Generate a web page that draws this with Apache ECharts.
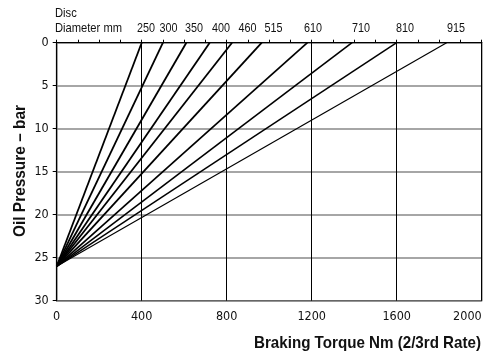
<!DOCTYPE html>
<html>
<head>
<meta charset="utf-8">
<script src="https://cdn.jsdelivr.net/npm/echarts@6/dist/echarts.min.js"></script>
<style>html,body{margin:0;padding:0;background:#fff}#c{width:487px;height:353px}</style>
</head>
<body>
<div id="c"></div>
<script>
// Disc diameters (mm)
const diameters = [250, 300, 350, 400, 460, 515, 610, 710, 810, 915];
// Braking torque (Nm) at 0 bar for each disc line
const torqueAtZero = [400, 500, 610, 720, 825, 965, 1180, 1390, 1600, 1835];
// Oil pressure where all lines meet at zero torque (bar)
const startPressure = 26;
// Where each diameter label sits along the torque axis
const labelAt = [420, 526, 646, 773, 898, 1020, 1206, 1432, 1639, 1879];
const xTicks = [0, 400, 800, 1200, 1600, 2000];
const yTicks = [0, 5, 10, 15, 20, 25, 30];

const FONT = '"DejaVu Sans Condensed", "Liberation Sans", Arial, sans-serif';
const NFONT = '"Liberation Sans", Arial, sans-serif';
const widths = [1.8,1.8,1.8,1.8,1.8,1.8,1.7,1.6,1.5,1.2];

const ctx = document.createElement('canvas').getContext('2d');
function fit(text, font, w) { ctx.font = font; return w / ctx.measureText(text).width; }

const labelFont = '13px ' + NFONT;
const digitScale = fit('250', labelFont, 18);

const series = diameters.map((d, i) => ({
  type: 'line',
  name: String(d),
  data: [[0, startPressure], [torqueAtZero[i], 0]],
  symbol: 'none',
  lineStyle: { color: '#000', width: widths[i] },
  z: 5,
  silent: true
}));
series.push({
  type: 'custom',
  data: labelAt.map((x, i) => [x, 0, diameters[i]]),
  clip: false,
  silent: true,
  renderItem: (params, api) => {
    const p = api.coord([api.value(0), api.value(1)]);
    return {
      type: 'text', x: p[0], y: p[1] - 14, scaleX: digitScale,
      style: { text: String(api.value(2)), font: labelFont, fill: '#111', align: 'center', verticalAlign: 'middle' }
    };
  }
});

const titleFont = 'bold 17px ' + NFONT;
const xTitle = 'Braking Torque Nm (2/3rd Rate)';
const yTitle = 'Oil Pressure – bar';
const discScale = fit('Diameter mm', labelFont, 67);

const chart = echarts.init(document.getElementById('c'), null, { renderer: 'canvas' });
chart.setOption({
  animation: false,
  backgroundColor: '#fff',
  grid: { left: 56.7, right: 5.3, top: 42.7, bottom: 52.3, show: true, borderColor: '#000', borderWidth: 1.2,
          containLabel: false, outerBoundsMode: 'none' },
  xAxis: {
    type: 'value', min: xTicks[0], max: xTicks[xTicks.length - 1], interval: 400,
    axisLine: { lineStyle: { color: '#000', width: 1.2 } },
    axisTick: { show: true, inside: true, length: 3, lineStyle: { color: '#000' } },
    minorTick: { show: true, splitNumber: 4, length: 3, lineStyle: { color: '#000' } },
    axisLabel: { color: '#111', fontSize: 12.5, fontFamily: FONT, margin: 10, alignMaxLabel: 'right',
      formatter: v => xTicks.includes(v) ? String(v) : '' },
    splitLine: { show: true, lineStyle: { color: '#000', width: 1 } }
  },
  yAxis: {
    type: 'value', inverse: true, min: yTicks[0], max: yTicks[yTicks.length - 1], interval: 5,
    axisLine: { lineStyle: { color: '#000', width: 1.2 } },
    axisTick: { show: true, inside: false, length: 4, lineStyle: { color: '#000' } },
    axisLabel: { color: '#111', fontSize: 12.5, fontFamily: FONT, margin: 8,
      formatter: v => yTicks.includes(v) ? String(v) : '' },
    splitLine: { show: true, lineStyle: { color: '#888', width: 1.5 } }
  },
  graphic: [
    { type: 'text', x: 55, y: 13, scaleX: discScale,
      style: { text: 'Disc', fill: '#111', font: labelFont, verticalAlign: 'middle' } },
    { type: 'text', x: 55, y: 28.5, scaleX: discScale,
      style: { text: 'Diameter mm', fill: '#111', font: labelFont, verticalAlign: 'middle' } },
    { type: 'text', x: 481, y: 343, scaleX: fit(xTitle, titleFont, 227),
      style: { text: xTitle, fill: '#111', font: titleFont, align: 'right', verticalAlign: 'middle' } },
    { type: 'text', x: 20, y: 171, rotation: Math.PI / 2, scaleX: fit(yTitle, titleFont, 132),
      style: { text: yTitle, fill: '#111', font: titleFont, align: 'center', verticalAlign: 'middle' } }
  ],
  series: series
});
</script>
</body>
</html>
